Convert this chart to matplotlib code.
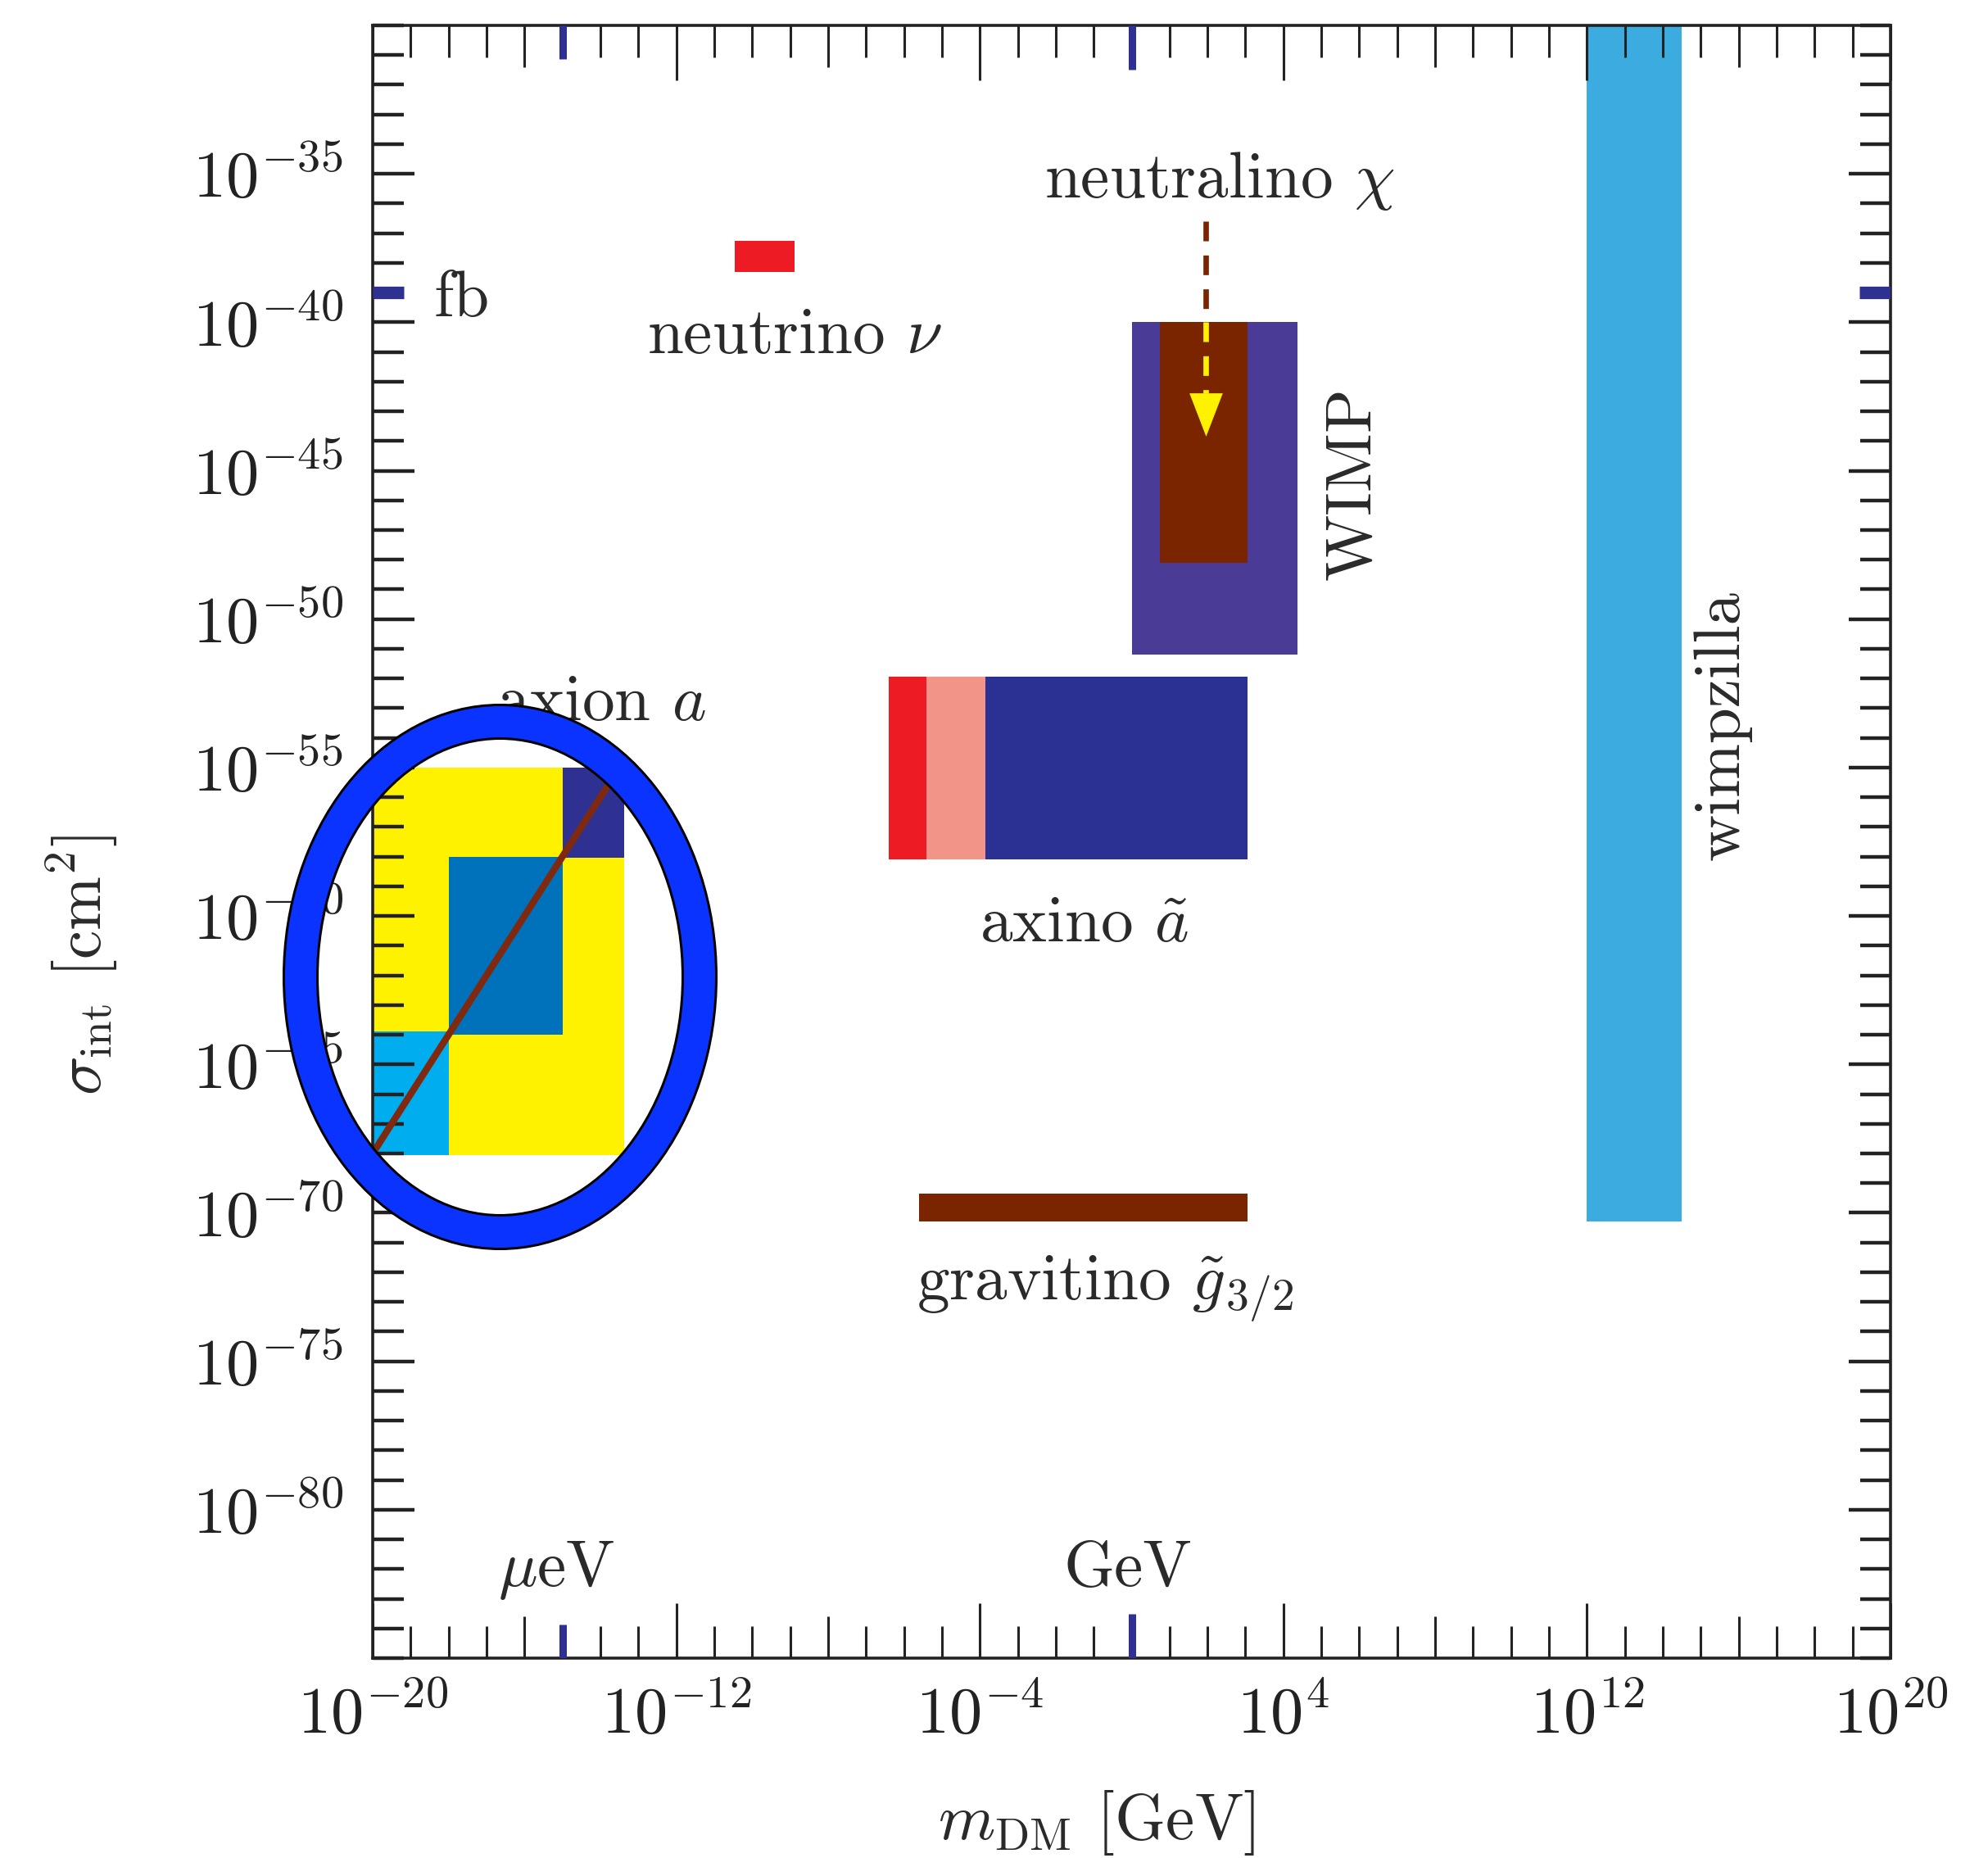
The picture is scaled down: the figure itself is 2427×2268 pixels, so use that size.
import numpy as np
import matplotlib
matplotlib.use("Agg")
import matplotlib.pyplot as plt
import matplotlib.patheffects as pe
from matplotlib.patches import Ellipse
from matplotlib.ticker import FixedLocator, FuncFormatter, NullFormatter

plt.rcParams['font.family'] = 'serif'
plt.rcParams['font.serif'] = ['cmr10']
plt.rcParams['mathtext.fontset'] = 'cm'
plt.rcParams['axes.formatter.use_mathtext'] = True

# candidate regions: log10 of m_DM [GeV] and sigma_int [cm^2]
region_names = ["neutrino", "wimp", "neutralino", "axino_hot", "axino_warm", "axino_cold",
                "gravitino", "wimpzilla", "axion", "axion_hot", "axion_mid", "axion_top"]
log_m_lo = [-10.45, 0.0, 0.75, -6.4, -5.4, -3.85, -5.6, 12.0, -20.0, -20.0, -18.0, -15.0]
log_m_hi = [-8.88, 4.37, 3.05, -5.4, -3.85, 3.05, 3.05, 14.5, -13.38, -18.0, -15.0, -13.38]
log_s_lo = [-38.3, -51.2, -48.1, -58.1, -58.1, -58.1, -70.3, -70.3, -68.05, -68.05, -64.0, -58.05]
log_s_hi = [-37.25, -40.0, -40.0, -51.95, -51.95, -51.95, -69.35, -30.0, -55.0, -63.9, -58.0, -55.0]

colors = {
    "neutrino": "#ED1C24", "wimp": "#4A3B97", "neutralino": "#7A2400",
    "axino_hot": "#ED1C24", "axino_warm": "#F29487", "axino_cold": "#2B3192",
    "gravitino": "#7A2400", "wimpzilla": "#3BABE0", "axion": "#FFF200",
    "axion_hot": "#00AEEF", "axion_mid": "#0072BB", "axion_top": "#2E3192",
}

# axion line sigma ~ m^2
axion_line_m = [-20.0, -13.38]
axion_line_s = [-68.0, -54.76]

# neutralino arrow (log10 values)
arrow_m = 1.95
arrow_s = [-36.6, -40.0, -42.4, -43.8]  # start, box top, head top, tip

# text labels: text, log10 m, log10 sigma (baseline)
label_text = [r"neutralino $\chi$", r"neutrino $\nu$", r"axion $a$", r"axino $\tilde{a}$",
              r"gravitino $\tilde{g}_{3/2}$", "fb", r"$\mu$eV", "GeV"]
label_m = [2.32, -8.89, -13.98, -1.25, -5.66, -18.4, -15.15, -0.1]
label_s = [-35.8, -41.03, -53.4, -60.86, -72.94, -39.79, -82.57, -82.57]
label_ha = ["center", "center", "center", "center", "left", "left", "center", "center"]

vlabel_text = ["WIMP", "wimpzilla"]
vlabel_m = [6.30, 15.99]
vlabel_s = [-45.44, -53.59]

# unit markers on the frame
unit_m = [-15, 0]      # 1 microeV, 1 GeV
unit_s = [-39]         # 1 fb

xtick_exp = [-20, -16, -12, -8, -4, 0, 4, 8, 12, 16, 20]
xlabel_exp = [-20, -12, -4, 4, 12, 20]
ytick_exp = [-80, -75, -70, -65, -60, -55, -50, -45, -40, -35]

W, H = 2427, 2268
fig = plt.figure(figsize=(W / 100, H / 100), dpi=100)
ax = fig.add_axes([455 / W, 1 - 2024 / H, (2308 - 455) / W, (2024 - 31) / H])
ax.set_xscale('log')
ax.set_yscale('log')
ax.set_xlim(1e-20, 1e20)
ax.set_ylim(1e-85, 1e-30)

for name, m0, m1, s0, s1 in zip(region_names, log_m_lo, log_m_hi, log_s_lo, log_s_hi):
    ax.fill_between([10.0 ** m0, 10.0 ** m1], 10.0 ** s0, 10.0 ** s1,
                    color=colors[name], lw=0, zorder=1)

ax.plot(10.0 ** np.array(axion_line_m), 10.0 ** np.array(axion_line_s),
        color="#7F2A10", lw=6, solid_capstyle='butt', zorder=2)

# arrow: brown dashes outside the box, yellow inside
ax.plot([10.0 ** arrow_m] * 2, [10.0 ** arrow_s[0], 10.0 ** arrow_s[1]],
        color="#7A2400", lw=4.8, dashes=(3.6, 2.6), zorder=3)
ax.plot([10.0 ** arrow_m] * 2, [10.0 ** arrow_s[1], 10.0 ** arrow_s[2]],
        color="#FFF200", lw=4.8, dashes=(3.6, 2.6), zorder=3)
ax.plot([10.0 ** arrow_m], [10.0 ** ((arrow_s[2] + arrow_s[3]) / 2)],
        marker=[(-0.77, 1), (0.77, 1), (0, -1)], ms=38, color="#FFF200", mew=0, zorder=3)

fs = 57
for t, m, s, ha in zip(label_text, label_m, label_s, label_ha):
    ax.text(10.0 ** m, 10.0 ** s, t, ha=ha, va='baseline', fontsize=fs, color="#2a2a2a", zorder=4)
for t, m, s in zip(vlabel_text, vlabel_m, vlabel_s):
    ax.text(10.0 ** m, 10.0 ** s, t, ha='center', va='baseline', rotation=90,
            rotation_mode='anchor', fontsize=fs, color="#2a2a2a", zorder=4)

# ticks
fmt = FuncFormatter(lambda v, p: r'$10^{%d}$' % round(np.log10(v))
                    if round(np.log10(v)) in xlabel_exp else '')
ax.xaxis.set_major_locator(FixedLocator([10.0 ** e for e in xtick_exp]))
ax.xaxis.set_minor_locator(FixedLocator([10.0 ** e for e in range(-20, 21)]))
ax.xaxis.set_major_formatter(fmt)
ax.xaxis.set_minor_formatter(NullFormatter())
ax.yaxis.set_major_locator(FixedLocator([10.0 ** e for e in ytick_exp]))
ax.yaxis.set_minor_locator(FixedLocator([10.0 ** e for e in range(-85, -29)]))
ax.yaxis.set_major_formatter(FuncFormatter(lambda v, p: r'$10^{%d}$' % round(np.log10(v))))
ax.yaxis.set_minor_formatter(NullFormatter())

ax.tick_params(which='both', direction='in', top=True, right=True, colors="#222222",
               labelsize=58)
ax.tick_params(axis='x', which='major', length=48, width=2.2, pad=24)
ax.tick_params(axis='x', which='minor', length=28, width=2.2)
ax.tick_params(axis='y', which='major', length=37, width=3.2, pad=26)
ax.tick_params(axis='y', which='minor', length=27, width=3.2)
for e, tk in zip(xtick_exp, ax.xaxis.get_major_ticks(len(xtick_exp))):
    if e not in xlabel_exp:
        tk.tick1line.set_markersize(37)
        tk.tick2line.set_markersize(37)

for sp in ax.spines.values():
    sp.set_linewidth(2.6)
    sp.set_color("#222222")

# unit markers
navy = "#2E3192"
for m, frac in zip(unit_m, [41 / 1993, 54 / 1993]):
    ax.axvline(10.0 ** m, ymin=0, ymax=frac, color=navy, lw=6.5, solid_capstyle='butt', zorder=5)
    ax.axvline(10.0 ** m, ymin=1 - frac, ymax=1, color=navy, lw=6.5, solid_capstyle='butt', zorder=5)
for s in unit_s:
    ax.axhline(10.0 ** s, xmin=0, xmax=38 / 1853, color=navy, lw=11, solid_capstyle='butt', zorder=5)
    ax.axhline(10.0 ** s, xmin=1 - 38 / 1853, xmax=1, color=navy, lw=11, solid_capstyle='butt', zorder=5)

ax.set_xlabel(r'$m_{\rm DM}$ [GeV]', fontsize=57, color="#2a2a2a", va='center')
ax.xaxis.set_label_coords(0.477, -0.101)
ax.set_ylabel(r'$\sigma_{\rm int}$ [cm$^2$]', fontsize=57, color="#2a2a2a", va='center')
ax.yaxis.set_label_coords(-0.1916, 0.4245)

# highlight ring around the axion region
ring = Ellipse((610.5 / W, 1 - 1192.5 / H), 2 * 243.5 / W, 2 * 311.5 / H,
               transform=fig.transFigure, fill=False, edgecolor="#0A33FF", lw=27.4,
               clip_on=False, zorder=10,
               path_effects=[pe.Stroke(linewidth=31.7, foreground='black'), pe.Normal()])
fig.add_artist(ring)

fig.savefig("out.png", dpi=100, facecolor='white')
